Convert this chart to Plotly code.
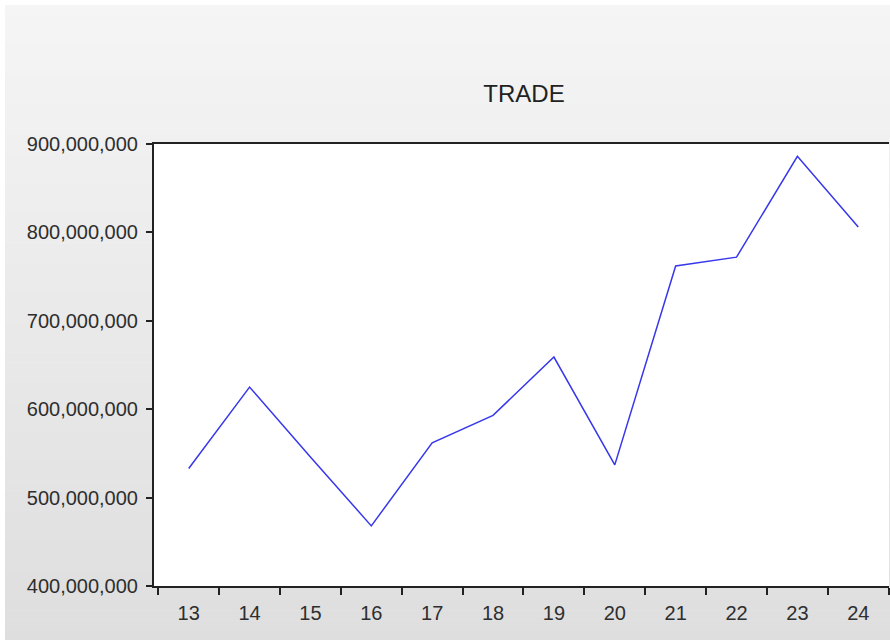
import plotly.graph_objects as go

# ---- data ----
years = ["13", "14", "15", "16", "17", "18", "19", "20", "21", "22", "23", "24"]
trade = [533e6, 625e6, 546e6, 468e6, 562e6, 593e6, 659e6, 537e6, 762e6, 772e6, 886e6, 806e6]
y_ticks = [400e6, 500e6, 600e6, 700e6, 800e6, 900e6]
title_text = "TRADE"

W, H = 890, 640
L, R, T, B = 154, 1, 144, 54
PW = W - L - R
PH = H - T - B

def px_x(px):
    return (px - L) / PW

def px_y(py):
    return (H - B - py) / PH

shapes = []
# gradient background panel (light gray, lighter at top)
n = 64
top, bot = 5, 640
for i in range(n):
    y0 = top + (bot - top) * i / n
    y1 = top + (bot - top) * (i + 1) / n + 0.6
    c = round(245 - (245 - 222) * (i + 0.5) / n)
    shapes.append(dict(type="rect", xref="paper", yref="paper",
                       x0=px_x(5), x1=px_x(W + 2), y0=px_y(y1), y1=px_y(y0),
                       fillcolor=f"rgb({c},{c},{c})", line=dict(width=0), layer="below"))
# white plotting area
shapes.append(dict(type="rect", xref="paper", yref="paper", x0=0, x1=1, y0=0, y1=1,
                   fillcolor="white", line=dict(width=0), layer="below"))

fig = go.Figure()
fig.add_trace(go.Scatter(x=years, y=trade, mode="lines",
                         line=dict(color="rgb(55,55,235)", width=1.5),
                         showlegend=False, hoverinfo="x+y"))

font = dict(family="Arial, Liberation Sans, sans-serif", size=20, color="#2e2e2e")

fig.update_layout(
    width=W, height=H, autosize=False,
    margin=dict(l=L, r=R, t=T, b=B, pad=0),
    paper_bgcolor="white", plot_bgcolor="rgba(0,0,0,0)",
    shapes=shapes,
    font=font,
    title=dict(text=title_text, x=524 / W, xanchor="center", y=1 - 94 / H, yanchor="middle",
               yref="container", xref="container",
               font=dict(family="Arial, Liberation Sans, sans-serif", size=24, color="#222222")),
    xaxis=dict(type="category", range=[-0.570, 11.505], showgrid=False, zeroline=False,
               showline=True, linecolor="#222222", linewidth=2, mirror=True,
               ticks="outside", tickson="boundaries", ticklen=7, tickwidth=1.5, tickcolor="#222222",
               tickfont=font, ticklabelstandoff=8),
    yaxis=dict(range=[400e6, 900e6], tickvals=y_ticks, tickformat=",", showgrid=False, zeroline=False,
               showline=True, linecolor="#222222", linewidth=2, mirror=False,
               ticks="outside", ticklen=6, tickwidth=1.5, tickcolor="#222222",
               tickfont=font, ticklabelstandoff=4),
)

fig.write_html("out.html", config={"displayModeBar": False},
               post_script="document.body.style.margin='0';document.body.style.overflow='hidden';")
